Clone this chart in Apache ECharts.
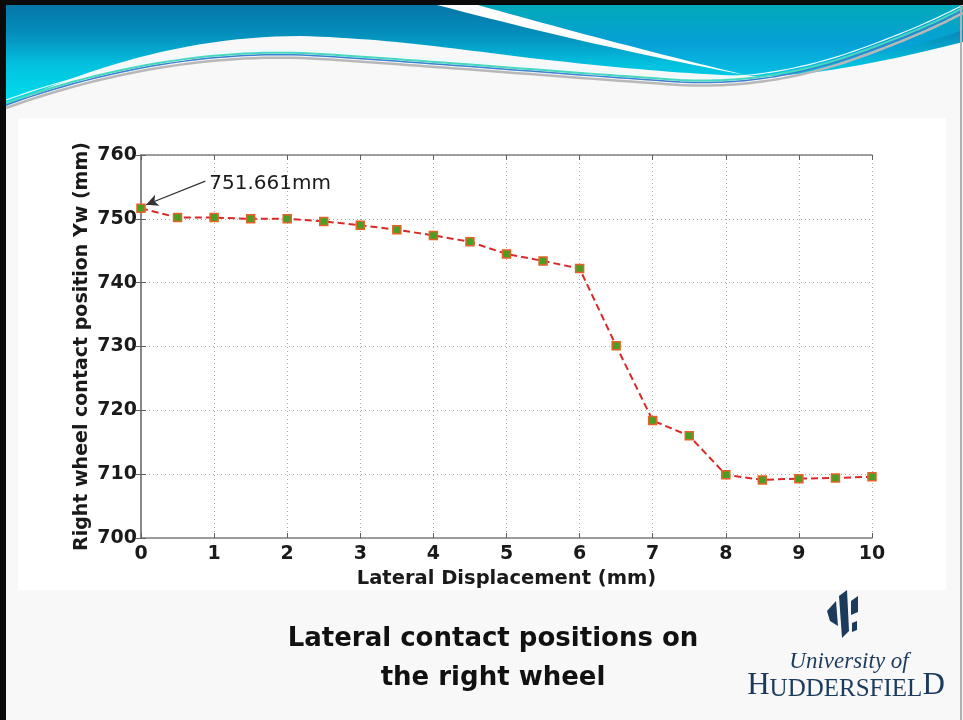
<!DOCTYPE html>
<html>
<head>
<meta charset="utf-8">
<title>Lateral contact positions on the right wheel</title>
<script src="https://cdn.jsdelivr.net/npm/echarts@6/dist/echarts.min.js"></script>
<style>
  html, body { margin: 0; padding: 0; background: #f8f8f8; }
  #chart { width: 963px; height: 720px; }
</style>
</head>
<body>
<div id="chart"></div>
<script>
// Lateral displacement of the wheelset (mm)
const lateralDisplacement = [0, 0.5, 1, 1.5, 2, 2.5, 3, 3.5, 4, 4.5, 5, 5.5, 6, 6.5, 7, 7.5, 8, 8.5, 9, 9.5, 10];
// Contact position Yw on the right wheel (mm)
const contactPosition = [751.661, 750.2, 750.2, 750.0, 750.0, 749.6, 749.0, 748.3, 747.4, 746.4, 744.5, 743.4, 742.2, 730.1, 718.4, 716.0, 709.9, 709.1, 709.3, 709.4, 709.6];
const xTicks = [0, 1, 2, 3, 4, 5, 6, 7, 8, 9, 10];
const yTicks = [700, 710, 720, 730, 740, 750, 760];

const FONT = 'DejaVu Sans';
const NAVY = '#1c3b5c';

const points = lateralDisplacement.map((x, i) => [x, contactPosition[i]]);

// Turns a chain of cubic segments [start, [c1, c2, end], ...] into a point list
function cubicChain(start, segments, steps) {
  const out = [start.slice()];
  let p0 = start;
  segments.forEach(([c1, c2, p3]) => {
    for (let i = 1; i <= steps; i++) {
      const t = i / steps, u = 1 - t;
      out.push([
        u * u * u * p0[0] + 3 * u * u * t * c1[0] + 3 * u * t * t * c2[0] + t * t * t * p3[0],
        u * u * u * p0[1] + 3 * u * u * t * c1[1] + 3 * u * t * t * c2[1] + t * t * t * p3[1]
      ]);
    }
    p0 = p3;
  });
  return out;
}

const chart = echarts.init(document.getElementById('chart'), null, { renderer: 'canvas' });

// slide decoration: banner waves, borders, figure panel, university logo
const blueWave = [[6, 5], [963, 5]].concat(cubicChain([963, 42], [
  [[900, 58], [820, 76], [760, 76]],
  [[700, 76], [600, 66], [530, 58]],
  [[450, 48], [380, 38], [300, 36]],
  [[200, 36], [100, 62], [6, 106]]
], 24));
const tealWave = [[478, 5], [963, 5]].concat(cubicChain([963, 30], [
  [[900, 52], [820, 70], [745, 75]],
  [[650, 52], [560, 28], [478, 5]]
], 24));
const whiteStripe = [[437, 5]].concat(cubicChain([478, 5], [
  [[560, 28], [650, 52], [745, 75]],
  [[640, 55], [540, 32], [437, 5]]
], 24));
const glossLine = cubicChain([6, 103], [
  [[120, 62], [230, 48], [320, 54]],
  [[420, 60], [560, 72], [680, 80]],
  [[740, 83], [800, 74], [860, 52]],
  [[910, 34], [940, 20], [963, 8]]
], 30);

const decoration = [
  { type: 'rect', shape: { x: 18, y: 118, width: 928, height: 472 }, style: { fill: '#ffffff' }, z: -10 },
  {
    type: 'polygon', z: -9, shape: { points: blueWave },
    style: { fill: new echarts.graphic.LinearGradient(0, 0, 0, 1, [
      { offset: 0, color: '#0576a8' }, { offset: 0.3, color: '#0590bd' },
      { offset: 0.6, color: '#03c2e0' }, { offset: 1, color: '#00e0ec' }
    ], false) }
  },
  {
    type: 'polygon', z: -8, shape: { points: tealWave },
    style: { fill: new echarts.graphic.LinearGradient(0, 0, 0, 1, [
      { offset: 0, color: '#02a9b8' }, { offset: 0.55, color: '#06a0d6' }, { offset: 1, color: '#08bfe2' }
    ], false) }
  },
  { type: 'polygon', z: -7, shape: { points: whiteStripe }, style: { fill: '#fdfdfd' } },
  { type: 'polyline', z: -6, y: 5, shape: { points: glossLine }, style: { stroke: '#b8b8b8', lineWidth: 2.5 } },
  { type: 'polyline', z: -6, y: 2, shape: { points: glossLine }, style: { stroke: '#3a7fd0', lineWidth: 1.5 } },
  { type: 'polyline', z: -6, y: 0, shape: { points: glossLine }, style: { stroke: '#45d8c0', lineWidth: 2 } },
  { type: 'polyline', z: -6, y: -3, shape: { points: glossLine }, style: { stroke: '#e8fbff', lineWidth: 1.2 } },
  { type: 'rect', z: -5, shape: { x: 0, y: 0, width: 963, height: 5 }, style: { fill: '#0a0a0a' } },
  { type: 'rect', z: -5, shape: { x: 0, y: 0, width: 6, height: 720 }, style: { fill: '#0a0a0a' } },
  { type: 'rect', z: -5, shape: { x: 960, y: 5, width: 2, height: 715 }, style: { fill: '#b0b0b0' } },
  // logo mark
  { type: 'polygon', z: -4, shape: { points: [[827, 611], [836, 601], [838, 626], [830, 621]] }, style: { fill: NAVY } },
  { type: 'polygon', z: -4, shape: { points: [[839, 596], [847, 590], [849, 631], [842, 638]] }, style: { fill: NAVY } },
  { type: 'polygon', z: -4, shape: { points: [[851, 601], [858, 596], [858, 612], [851, 615]] }, style: { fill: NAVY } },
  { type: 'polygon', z: -4, shape: { points: [[852, 623], [857, 621], [857, 630], [852, 632]] }, style: { fill: NAVY } },
  {
    type: 'text', z: -4, x: 849, y: 662,
    style: { text: 'University of', fill: NAVY, font: 'italic 23px "Liberation Serif"', align: 'center', verticalAlign: 'middle' }
  },
  {
    type: 'text', z: -4, x: 846, y: 686,
    style: {
      text: '{b|H}{s|UDDERSFIEL}{b|D}', align: 'center', verticalAlign: 'middle',
      rich: {
        b: { fontFamily: 'Liberation Serif', fontSize: 31, fill: NAVY },
        s: { fontFamily: 'Liberation Serif', fontSize: 25, fill: NAVY, verticalAlign: 'bottom' }
      }
    }
  }
];

const tickFont = { fontFamily: FONT, fontWeight: 'bold', fontSize: 19, color: '#1a1a1a' };
const boxLine = { show: true, lineStyle: { color: '#808080', width: 1.5 } };
const innerTick = { show: true, inside: true, length: 5, lineStyle: { color: '#606060', width: 1 } };
const dotted = { show: true, lineStyle: { color: '#a8a8a8', type: [1, 3], width: 1 } };

chart.setOption({
  backgroundColor: '#f8f8f8',
  animation: false,
  graphic: decoration,
  title: {
    text: 'Lateral contact positions on\nthe right wheel',
    left: 488, top: 615, textAlign: 'center',
    textStyle: { fontFamily: FONT, fontWeight: 'bold', fontSize: 26, lineHeight: 39, color: '#111111' }
  },
  grid: { left: 141, right: 91, top: 155, bottom: 182 },
  xAxis: [
    {
      type: 'value', min: 0, max: 10, interval: 1, position: 'bottom',
      name: 'Lateral Displacement (mm)', nameLocation: 'middle', nameGap: 28,
      nameTextStyle: { fontFamily: FONT, fontWeight: 'bold', fontSize: 19.5, color: '#1a1a1a' },
      axisLine: boxLine, axisTick: innerTick, splitLine: dotted,
      axisLabel: Object.assign({ margin: 7, formatter: v => xTicks.includes(v) ? String(v) : '' }, tickFont)
    },
    {
      type: 'value', min: 0, max: 10, interval: 1, position: 'top',
      axisLine: boxLine, axisTick: innerTick, splitLine: { show: false }, axisLabel: { show: false }
    }
  ],
  yAxis: [
    {
      type: 'value', min: 700, max: 760, interval: 10, position: 'left',
      name: 'Right wheel contact position Yw (mm)', nameLocation: 'middle', nameGap: 49,
      nameMoveOverlap: false,
      nameTextStyle: { fontFamily: FONT, fontWeight: 'bold', fontSize: 19, color: '#1a1a1a' },
      axisLine: boxLine, axisTick: innerTick, splitLine: dotted,
      axisLabel: Object.assign({ margin: 4, formatter: v => yTicks.includes(v) ? String(v) : '' }, tickFont)
    },
    {
      type: 'value', min: 700, max: 760, interval: 10, position: 'right',
      axisLine: boxLine, axisTick: innerTick, splitLine: { show: false }, axisLabel: { show: false }
    }
  ],
  series: [{
    type: 'line',
    xAxisIndex: 0, yAxisIndex: 0,
    data: points,
    symbol: 'rect', symbolSize: 8,
    lineStyle: { color: '#d92a2a', width: 2, type: [7, 4] },
    itemStyle: { color: '#4c9e22', borderColor: '#e5632a', borderWidth: 1.5 },
    markLine: {
      silent: true, symbol: ['none', 'arrow'], symbolSize: [9, 12],
      lineStyle: { color: '#333333', width: 1.2, type: 'solid' },
      label: { show: false },
      data: [[
        { coord: [0.88, 755.9] },
        { coord: [lateralDisplacement[0] + 0.07, contactPosition[0] + 0.55] }
      ]]
    },
    markPoint: {
      silent: true, symbol: 'circle', symbolSize: 0,
      label: {
        show: true, position: 'right', distance: 4,
        formatter: () => contactPosition[0] + 'mm',
        fontFamily: FONT, fontSize: 20, color: '#1a1a1a'
      },
      data: [{ coord: [0.88, 755.5], value: contactPosition[0] }]
    }
  }]
});
</script>
</body>
</html>
